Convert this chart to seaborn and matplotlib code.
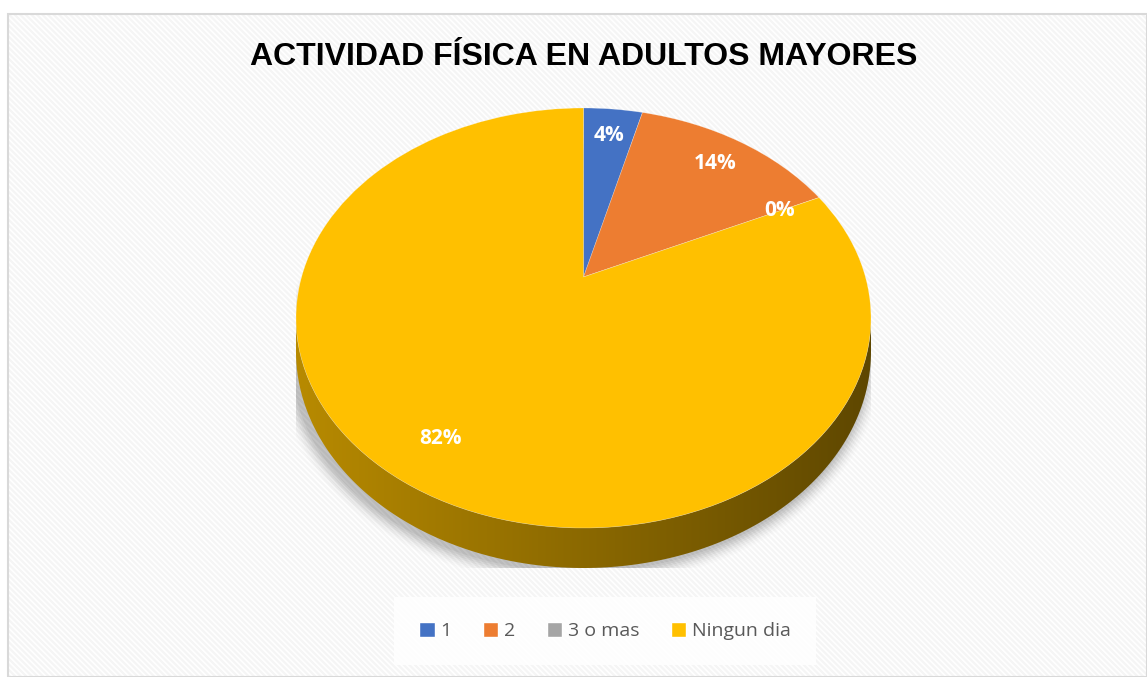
#3D-looking pie chart of physical activity days (adultos mayores)
import numpy as np
import pandas as pd
from matplotlib import pyplot as plt
from matplotlib.patches import Rectangle, Polygon, Ellipse
from matplotlib.transforms import Transform
import matplotlib.colors as mcolors
import seaborn as sns

#data
categories = ["1", "2", "3 o mas", "Ningun dia"]
percent = [4, 14, 0, 82]
title = "ACTIVIDAD FÍSICA EN ADULTOS MAYORES"

#colours of the slices (office palette)
colors = sns.color_palette(['#4472c4', '#ed7d31', '#a5a5a5', '#ffc000'])

sns.set_theme(style='white')
plt.rcParams['font.family'] = ['Open Sans', 'DejaVu Sans']
plt.rcParams['hatch.linewidth'] = 1.6

df = pd.DataFrame({'answer': categories, 'percent': percent})


class Perspective(Transform):
    """tilted disc seen in perspective: unit circle -> screen pixels around the pie centre"""
    input_dims = 2
    output_dims = 2

    def __init__(self, s, p, c):
        super().__init__()
        self.s, self.p, self.c = s, p, c

    def transform_non_affine(self, values):
        values = np.asarray(values, dtype=float)
        u, v = values[:, 0], values[:, 1]
        d = 1 + self.c * v
        return np.column_stack([self.s * u / d, self.p * v / d])


W, H = 1147, 677
fig = plt.figure(figsize=(W / 100, H / 100), dpi=100)
fig.patch.set_facecolor('white')

#background with the light diagonal stripes and grey border
bg = fig.add_axes([0, 0, 1, 1])
bg.set_xlim(0, W)
bg.set_ylim(H, 0)
bg.axis('off')
bg.add_patch(Rectangle((8, 14), W - 8, H - 14, facecolor='white', edgecolor='#f5f5f5',
                       hatch='\\\\\\\\\\\\', linewidth=0))
bg.add_patch(Rectangle((8, 14), W - 8, H - 14, facecolor='none', edgecolor='#d9d9d9', linewidth=1.5))

#pie axes in pixel units, origin at the pie centre
top_h, bot_h, half_w, depth = 169, 251, 287.5, 40
left, top = 296, 108
ax = fig.add_axes([left / W, 1 - (top + top_h + bot_h + depth) / H,
                   2 * half_w / W, (top_h + bot_h + depth) / H])

c = (bot_h - top_h) / (bot_h + top_h)
p = top_h * (1 + c)
s = half_w * np.sqrt(1 - c ** 2)
persp = Perspective(s, p, c)

#soft shadow under the pie
for i, a in enumerate(np.linspace(0.05, 0.012, 8)):
    ax.add_patch(Ellipse((-4, -(bot_h - top_h) / 2 - depth - 4), 2 * half_w + i * 4,
                         top_h + bot_h + i * 4, facecolor='black', alpha=a, linewidth=0, zorder=0))

#side wall of the front half, with a left-to-right gradient
phi = np.linspace(np.pi + np.arcsin(c), 2 * np.pi - np.arcsin(c), 200)
rim = persp.transform(np.column_stack([np.cos(phi), np.sin(phi)]))
drop = depth * (1 - c) / (1 + c * np.sin(phi))
low = rim - np.column_stack([np.zeros_like(drop), drop])
side = Polygon(np.vstack([rim, low[::-1]]), closed=True, facecolor='none', edgecolor='none', zorder=1)
ax.add_patch(side)
front = df['percent'].idxmax()
base = np.array(mcolors.to_rgb(colors[front]))
grad = np.linspace(0, 1, 256)
shade = np.array([base * (0.72 - 0.35 * g) for g in grad])[None, :, :]
img = ax.imshow(shade, extent=(-half_w, half_w, -bot_h - depth, 0), aspect='auto', zorder=1)
img.set_clip_path(side)

#top face of the pie
wedges, texts, autotexts = ax.pie(
    df['percent'], colors=colors, startangle=90, counterclock=False,
    autopct=lambda v: f'{v:.0f}%', pctdistance=0.82,
    wedgeprops=dict(linewidth=0.4, edgecolor=(1, 1, 1, 0.4)),
    textprops=dict(color='white', fontsize=15, fontweight='bold'))
for w in wedges:
    w.set_transform(persp + ax.transData)
    w.set_zorder(2)
for txt in autotexts:
    txt.set_position(persp.transform(np.array([txt.get_position()]))[0])
    txt.set_zorder(3)

ax.set_aspect('auto')
ax.set_xlim(-half_w, half_w)
ax.set_ylim(-bot_h - depth, top_h)
ax.axis('off')

#title
fig.text(584 / W, 1 - 65 / H, title, ha='center', va='baseline',
         fontsize=23, fontweight='bold', color='black', family=['Liberation Sans', 'DejaVu Sans'])

#legend at the bottom
handles = [Rectangle((0, 0), 1, 1, facecolor=col) for col in colors]
leg = fig.legend(handles, categories, loc='center', bbox_to_anchor=(605 / W, 1 - 631 / H),
                 ncol=4, frameon=True, fontsize=14, handlelength=0.8, handleheight=0.8,
                 handletextpad=0.3, columnspacing=1.6, borderpad=1.3, fancybox=False)
leg.get_frame().set_facecolor('white')
leg.get_frame().set_edgecolor('none')
leg.get_frame().set_alpha(0.85)
for txt in leg.get_texts():
    txt.set_color('#595959')

fig.savefig('out.png', dpi=100)
